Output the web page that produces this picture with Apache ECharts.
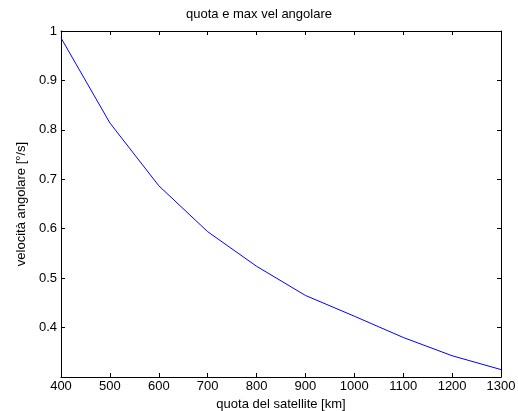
<!DOCTYPE html>
<html>
<head>
<meta charset="utf-8">
<script src="https://cdn.jsdelivr.net/npm/echarts@6/dist/echarts.min.js"></script>
<style>
  html, body { margin: 0; padding: 0; background: #fff; }
  #chart { width: 518px; height: 411px; }
</style>
</head>
<body>
<div id="chart"></div>
<script>
// quota (km) e velocità angolare max (°/s)
const quota = [400, 500, 600, 700, 800, 900, 1000, 1100, 1200, 1300]
const velocita = [0.986, 0.814, 0.687, 0.594, 0.524, 0.465, 0.423, 0.380, 0.343, 0.315]

const font = 'Liberation Sans, Arial, sans-serif'
const black = '#000'

const chart = echarts.init(document.getElementById('chart'))

// box intorno al grafico, tacche verso l'interno come in matlab
const boxAxis = {
  axisLine: { show: true, lineStyle: { color: black, width: 1 } },
  axisTick: { show: true, inside: true, length: 4, lineStyle: { color: black } },
  splitLine: { show: false }
}

const option = {
  animation: false,
  backgroundColor: '#fff',
  title: {
    text: 'quota e max vel angolare',
    left: 'center',
    top: 3,
    textStyle: { fontFamily: font, fontSize: 13, fontWeight: 'normal', color: black }
  },
  grid: { left: 61, right: 17, top: 31, bottom: 34, outerBoundsMode: 'none' },
  xAxis: [
    {
      ...boxAxis,
      type: 'value',
      min: 400,
      max: 1300,
      interval: 100,
      name: 'quota del satellite [km]',
      nameLocation: 'middle',
      nameGap: 21,
      nameTextStyle: { fontFamily: font, fontSize: 13, color: black },
      axisLabel: { fontFamily: font, fontSize: 13, color: black, margin: 3, formatter: v => String(v) }
    },
    {
      ...boxAxis,
      type: 'value',
      position: 'top',
      min: 400,
      max: 1300,
      interval: 100,
      axisLabel: { show: false }
    }
  ],
  yAxis: [
    {
      ...boxAxis,
      type: 'value',
      min: 0.3,
      max: 1,
      interval: 0.1,
      name: 'velocità angolare [°/s]',
      nameLocation: 'middle',
      nameGap: 25,
      nameTextStyle: { fontFamily: font, fontSize: 13, color: black },
      axisLabel: {
        fontFamily: font, fontSize: 13, color: black, margin: 4,
        formatter: v => (Math.abs(v - 0.3) < 1e-6 ? '' : String(+v.toFixed(1)))
      }
    },
    {
      ...boxAxis,
      type: 'value',
      position: 'right',
      min: 0.3,
      max: 1,
      interval: 0.1,
      axisLabel: { show: false }
    }
  ],
  series: [
    {
      type: 'line',
      data: quota.map((q, i) => [q, velocita[i]]),
      showSymbol: false,
      lineStyle: { color: '#0000ff', width: 1 },
      itemStyle: { color: '#0000ff' }
    }
  ]
}

chart.setOption(option)
</script>
</body>
</html>
